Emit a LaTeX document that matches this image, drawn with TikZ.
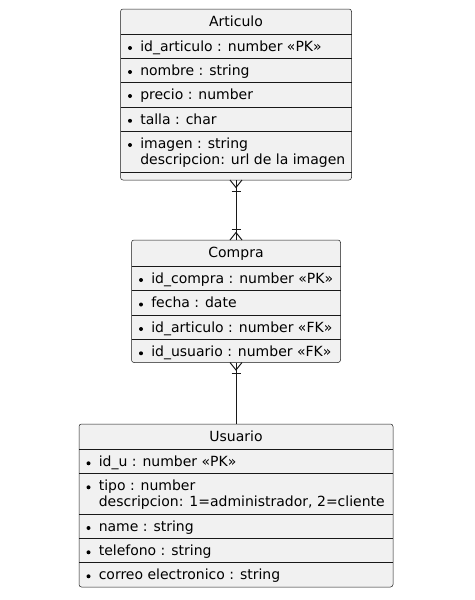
\documentclass[tikz,border=0pt]{standalone}
\usepackage{fontspec}
\setmainfont{DejaVu Sans}
\usetikzlibrary{calc}
\definecolor{boxfill}{HTML}{F1F1F1}
\definecolor{ink}{HTML}{181818}
\begin{document}
\begin{tikzpicture}[x=0.75pt,y=-0.75pt,
  entbox/.style={draw=ink, line width=0.375pt, fill=boxfill, rounded corners=1.9pt, inner sep=0pt, outer sep=0pt, anchor=north west},
  sep/.style={draw=ink, line width=0.75pt},
  hsep/.style={draw=ink, line width=0.375pt},
  txt/.style={anchor=base west, inner sep=0pt, font=\fontsize{10.5}{12.6}\selectfont, text=black},
  ttl/.style={anchor=base, inner sep=0pt, font=\fontsize{10.5}{12.6}\selectfont, text=black},
  conn/.style={draw=ink, line width=0.75pt}]
\useasboundingbox (0,0) rectangle (475,600);

% ---------- Articulo ----------
\node[entbox, minimum width=231*0.75pt, minimum height=171*0.75pt] (art) at (120.5,9) {};
\node[ttl] (artT) at (236,26) {Articulo};
\draw[hsep] (120.5,34) -- (351.5,34);
\draw[sep] (120.5,58) -- (351.5,58);
\draw[sep] (120.5,82) -- (351.5,82);
\draw[sep] (120.5,107) -- (351.5,107);
\draw[sep] (120.5,131) -- (351.5,131);
\draw[sep] (120.5,172) -- (351.5,172);
\fill[black] (130,48) circle[radius=1.5pt];
\node[txt] (a1) at (140,51.2) {id\_articulo : number «PK»};
\fill[black] (130,72) circle[radius=1.5pt];
\node[txt] (a2) at (140,75.2) {nombre : string};
\fill[black] (130,96) circle[radius=1.5pt];
\node[txt] (a3) at (140,99.4) {precio : number};
\fill[black] (130,120.8) circle[radius=1.5pt];
\node[txt] (a4) at (140,124) {talla : char};
\fill[black] (130,145) circle[radius=1.5pt];
\node[txt] (a5) at (140,148.2) {imagen : string};
\node[txt] (a6) at (140,164.5) {descripcion: url de la imagen};

% ---------- Compra ----------
\node[entbox, minimum width=209*0.75pt, minimum height=122.5*0.75pt] (com) at (131.5,240) {};
\node[ttl] (comT) at (236,257) {Compra};
\draw[hsep] (131.5,266) -- (340.5,266);
\draw[sep] (131.5,290.5) -- (340.5,290.5);
\draw[sep] (131.5,315) -- (340.5,315);
\draw[sep] (131.5,339.3) -- (340.5,339.3);
\fill[black] (141,280) circle[radius=1.5pt];
\node[txt] (c1) at (151,283.2) {id\_compra : number «PK»};
\fill[black] (141,304.5) circle[radius=1.5pt];
\node[txt] (c2) at (151,307.7) {fecha : date};
\fill[black] (141,329) circle[radius=1.5pt];
\node[txt] (c3) at (151,332.2) {id\_articulo : number «FK»};
\fill[black] (141,353.3) circle[radius=1.5pt];
\node[txt] (c4) at (151,356.5) {id\_usuario : number «FK»};

% ---------- Usuario ----------
\node[entbox, minimum width=314*0.75pt, minimum height=163*0.75pt] (usu) at (79,424) {};
\node[ttl] (usuT) at (236,441) {Usuario};
\draw[hsep] (79,449.3) -- (393,449.3);
\draw[sep] (79,473.3) -- (393,473.3);
\draw[sep] (79,514) -- (393,514);
\draw[sep] (79,538.3) -- (393,538.3);
\draw[sep] (79,562.3) -- (393,562.3);
\fill[black] (88.5,463.3) circle[radius=1.5pt];
\node[txt] (u1) at (98.5,466.5) {id\_u : number «PK»};
\fill[black] (88.5,487.3) circle[radius=1.5pt];
\node[txt] (u2) at (98.5,490.5) {tipo : number};
\node[txt] (u3) at (98.5,506.8) {descripcion: 1=administrador, 2=cliente};
\fill[black] (88.5,528) circle[radius=1.5pt];
\node[txt] (u4) at (98.5,531.2) {name : string};
\fill[black] (88.5,552.3) circle[radius=1.5pt];
\node[txt] (u5) at (98.5,555.5) {telefono : string};
\fill[black] (88.5,576.3) circle[radius=1.5pt];
\node[txt] (u6) at (98.5,579.5) {correo electronico : string};

% ---------- connectors ----------
\draw[conn] (art.south) -- (com.north);
% crow's foot + bar at Articulo
\draw[conn] ($(art.south)+(-6,0)$) -- ($(art.south)+(0,7.5)$) -- ($(art.south)+(6,0)$);
\draw[conn] ($(art.south)+(-4.5,11)$) -- ($(art.south)+(4.5,11)$);
% crow's foot + bar at Compra (top)
\draw[conn] ($(com.north)+(-6,0)$) -- ($(com.north)+(0,-7.5)$) -- ($(com.north)+(6,0)$);
\draw[conn] ($(com.north)+(-4.5,-11)$) -- ($(com.north)+(4.5,-11)$);

\draw[conn] (com.south) -- (usu.north);
\draw[conn] ($(com.south)+(-6,0)$) -- ($(com.south)+(0,7.5)$) -- ($(com.south)+(6,0)$);
\draw[conn] ($(com.south)+(-4.5,11)$) -- ($(com.south)+(4.5,11)$);
\end{tikzpicture}
\end{document}
